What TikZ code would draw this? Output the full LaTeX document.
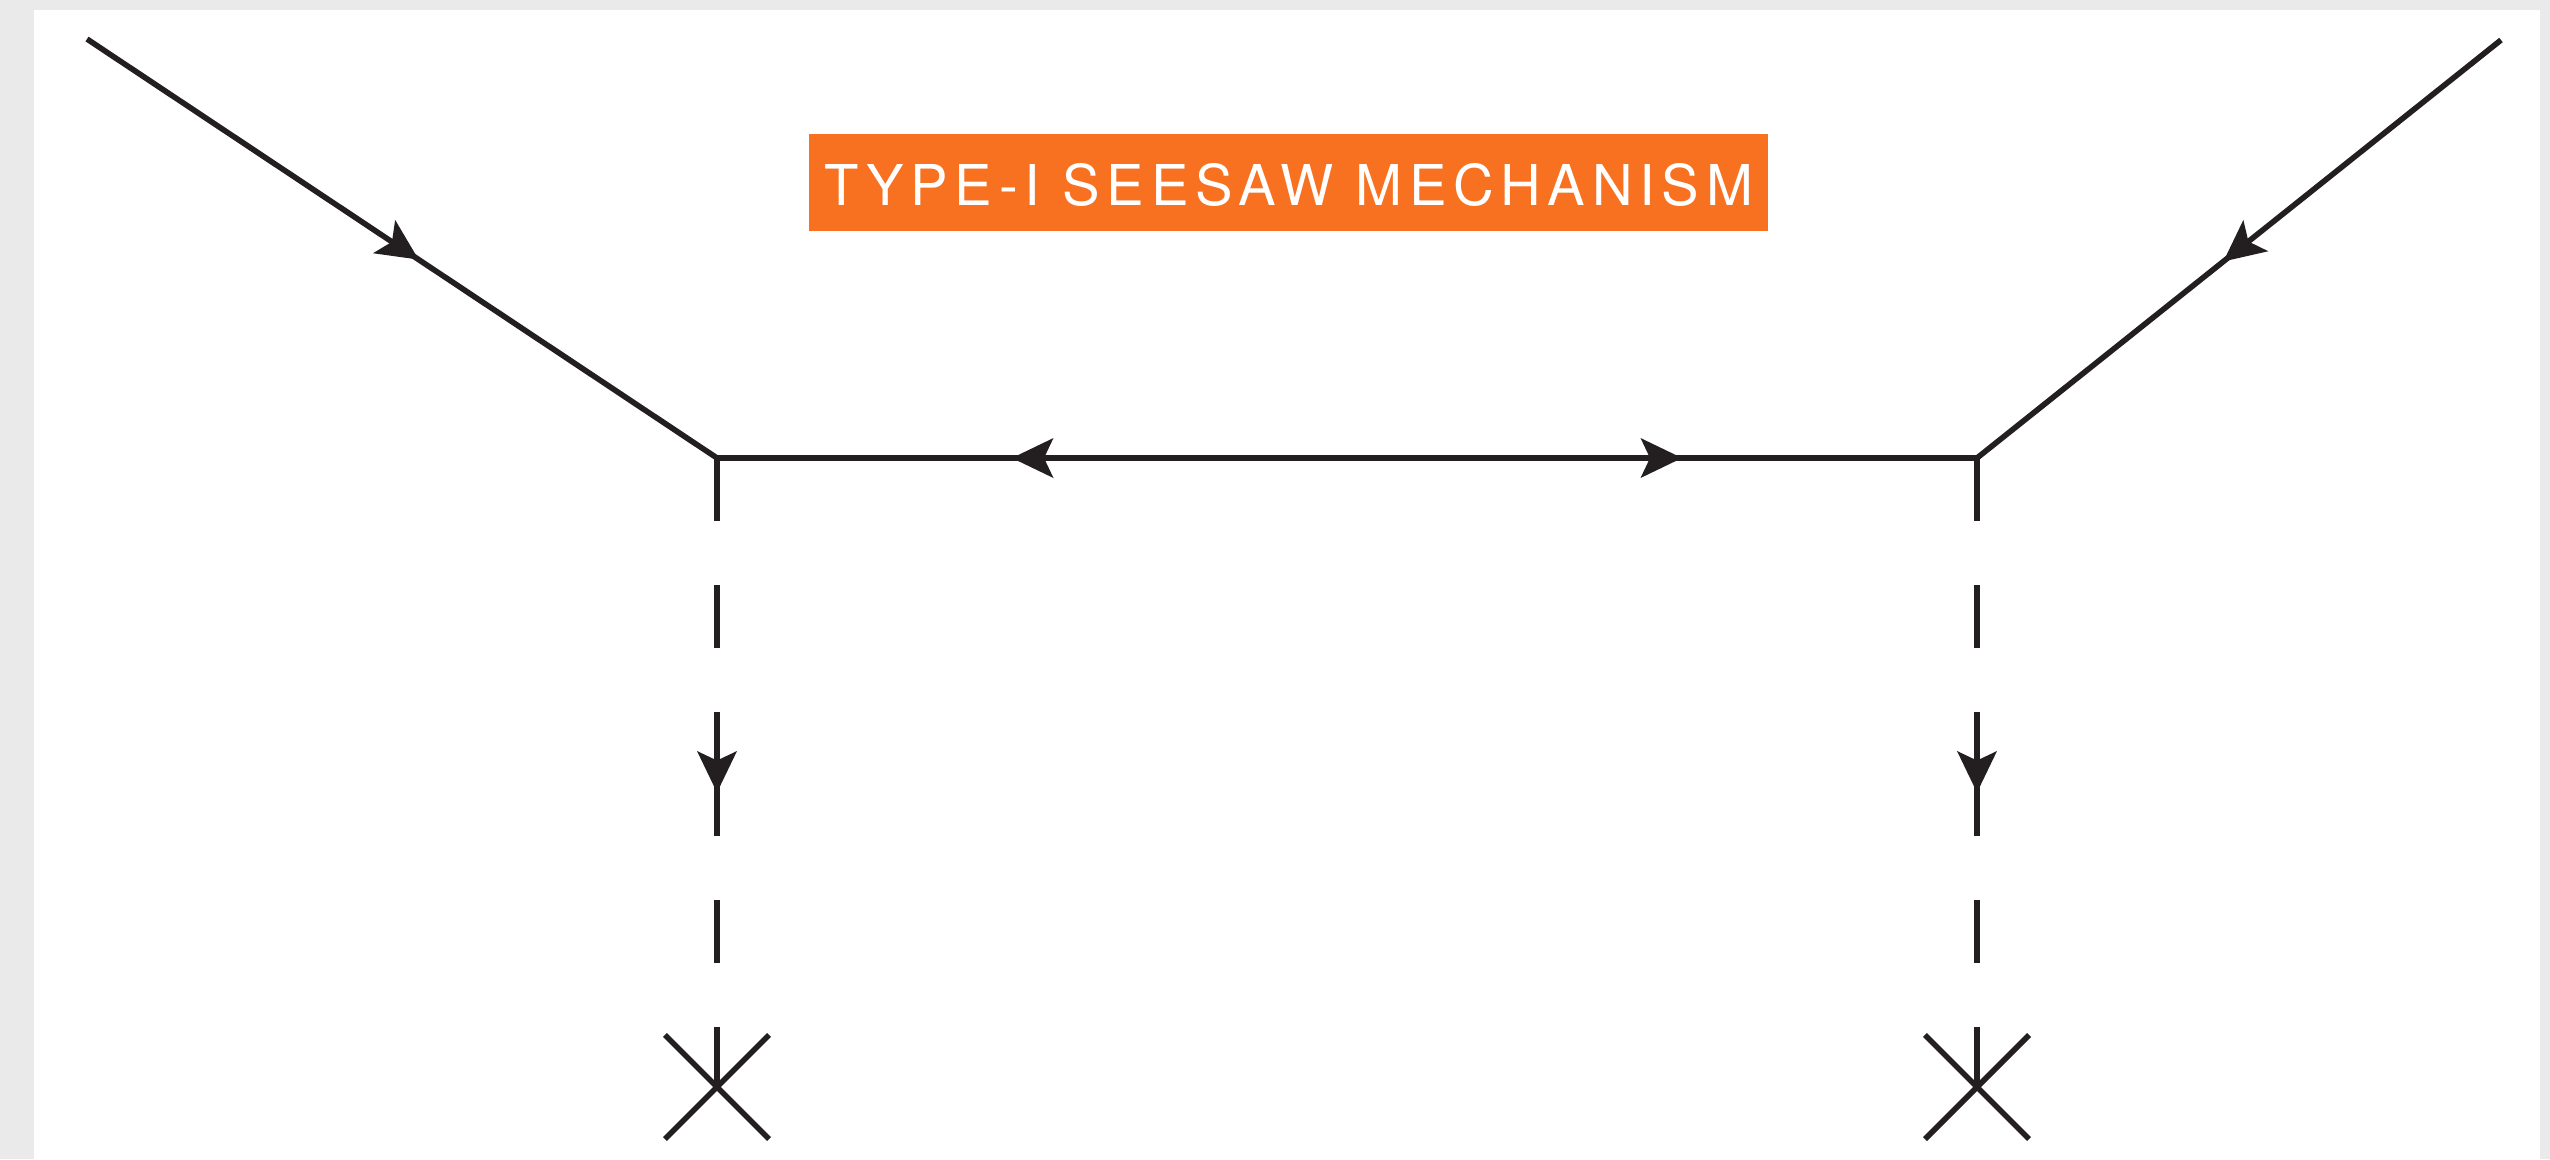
\documentclass[tikz,border=0pt]{standalone}
\usepackage{fontspec}
\setmainfont{TeX Gyre Heros}
\usetikzlibrary{decorations.markings,calc,shapes.misc}
\definecolor{ink}{HTML}{231F20}
\definecolor{bannerorange}{HTML}{F77121}
\definecolor{pagegrey}{HTML}{EAEAEA}
\begin{document}
\begin{tikzpicture}[x=0.01cm,y=-0.01cm,
  line/.style={draw=ink,line width=0.056cm},
  midarrow/.style={postaction={decorate,decoration={markings,
    mark=at position 0.5 with {\fill[ink] (0.20cm,0) -- (-0.215cm,0.2cm) -- (-0.12cm,0) -- (-0.215cm,-0.2cm) -- cycle;}}}},
  dashline/.style={line,dash pattern=on 0.63cm off 0.64cm},
  crossmark/.style={cross out,draw=ink,line width=0.056cm,minimum size=1.04cm,inner sep=0pt,outer sep=0pt},
  banner/.style={fill=bannerorange,text=white,minimum width=9.59cm,minimum height=0.97cm,inner sep=0pt,
    text height=0.46cm,text depth=0pt,
    font=\fontsize{16pt}{19pt}\selectfont\addfontfeature{LetterSpace=12}}]
\fill[pagegrey] (0,0) rectangle (2550,1159);
\fill[white] (34,10) rectangle (2540,1159);
\useasboundingbox (0,0) rectangle (2550,1159);

\node[banner] (title) at (1288.5,182.5) {TYPE-I SEESAW MECHANISM};

\coordinate (A) at (87,39);
\coordinate (B) at (2501,40);
\coordinate (L) at (717,458);
\coordinate (R) at (1977,458);
\coordinate (C) at ($(L)!0.5!(R)$);
\node[crossmark] (XL) at (717,1087) {};
\node[crossmark] (XR) at (1977,1087) {};
\coordinate (ML) at ($(L)!0.5!(XL.center)$);
\coordinate (MR) at ($(R)!0.5!(XR.center)$);

\draw[line,midarrow] (A) -- (L);
\draw[line,midarrow] (B) -- (R);
\draw[line,midarrow] (C) -- (L);
\draw[line,midarrow] (C) -- (R);

\draw[dashline] (L) -- (ML);
\draw[dashline] (ML) -- (XL.center);
\path[midarrow] (L) -- (XL.center);
\draw[dashline] (R) -- (MR);
\draw[dashline] (MR) -- (XR.center);
\path[midarrow] (R) -- (XR.center);
\end{tikzpicture}
\end{document}
